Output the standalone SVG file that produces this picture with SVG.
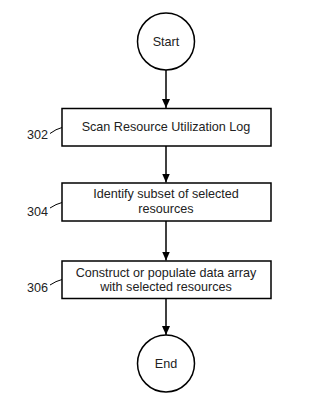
<svg xmlns="http://www.w3.org/2000/svg" width="326" height="400" viewBox="0 0 326 400">
<style>
.shape{fill:#fff;stroke:#000;stroke-width:1.5}
.t{font-family:"Liberation Sans",Arial,sans-serif;font-size:12.6px;fill:#222;text-anchor:middle;dominant-baseline:central}
.lbl{font-family:"Liberation Sans",Arial,sans-serif;font-size:12.6px;fill:#222;text-anchor:start;dominant-baseline:central}
.conn{stroke:#000;stroke-width:1.5;fill:none}
.lead{stroke:#000;stroke-width:1;fill:none}
</style>
<defs>
<marker id="ah" markerWidth="10" markerHeight="10" refX="9" refY="5" orient="auto" markerUnits="userSpaceOnUse">
<path d="M0,1 L9,5 L0,9 Z" fill="#000"/>
</marker>
</defs>
<rect width="326" height="400" fill="#fff"/>
<g id="connectors">
<line class="conn" x1="166" y1="70" x2="166" y2="108" marker-end="url(#ah)"/>
<line class="conn" x1="166" y1="146" x2="166" y2="182.5" marker-end="url(#ah)"/>
<line class="conn" x1="166" y1="221" x2="166" y2="260.5" marker-end="url(#ah)"/>
<line class="conn" x1="166" y1="298.5" x2="166" y2="335" marker-end="url(#ah)"/>
</g>
<g id="start">
<circle class="shape" cx="166" cy="41.5" r="28.5"/>
<text class="t" x="166" y="42">Start</text>
</g>
<g id="n302">
<rect class="shape" x="62" y="108.5" width="209" height="37.5"/>
<text class="t" x="166" y="127">Scan Resource Utilization Log</text>
<text class="lbl" x="27" y="135">302</text>
<path class="lead" d="M50,133.5 Q56,129 62,127.5"/>
</g>
<g id="n304">
<rect class="shape" x="62" y="183" width="209" height="38"/>
<text class="t" x="166" y="194">Identify subset of selected</text>
<text class="t" x="166" y="209">resources</text>
<text class="lbl" x="27" y="211.5">304</text>
<path class="lead" d="M50,208 Q56,204 62,202.5"/>
</g>
<g id="n306">
<rect class="shape" x="62" y="261" width="209" height="37.5"/>
<text class="t" x="166" y="272.5">Construct or populate data array</text>
<text class="t" x="166" y="286.5">with selected resources</text>
<text class="lbl" x="27" y="287.5">306</text>
<path class="lead" d="M50,285 Q56,281 62,279.5"/>
</g>
<g id="end">
<circle class="shape" cx="166" cy="363.5" r="28.5"/>
<text class="t" x="166" y="364">End</text>
</g>
</svg>
